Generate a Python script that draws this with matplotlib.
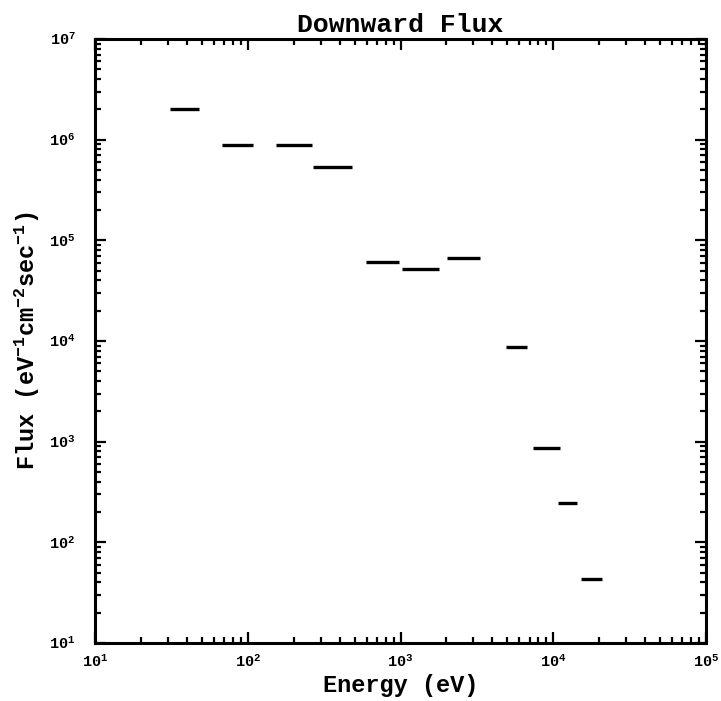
import math
import matplotlib
matplotlib.use("Agg")
import matplotlib.pyplot as plt
from matplotlib.ticker import LogLocator, FuncFormatter, NullFormatter

# energy bins (eV) and downward flux in each bin
e_lo = [31, 68, 152, 266, 590, 1025, 2030, 4880, 7400, 10700, 15100]
e_hi = [48, 108, 265, 479, 975, 1790, 3300, 6700, 11000, 14400, 21000]
flux = [2.0e6, 8.9e5, 8.9e5, 5.3e5, 6.1e4, 5.2e4, 6.7e4, 8.7e3, 870, 245, 43]

plt.rcParams['mathtext.fontset'] = 'custom'
plt.rcParams['mathtext.rm'] = 'Liberation Mono:bold'
plt.rcParams['mathtext.bf'] = 'Liberation Mono:bold'
plt.rcParams['mathtext.it'] = 'Liberation Serif:bold'
plt.rcParams['mathtext.default'] = 'rm'

fig = plt.figure(figsize=(7.21, 7.01), dpi=100)
ax = fig.add_axes([0.1318, 0.0827, 0.8474, 0.8616])

ax.hlines(flux, e_lo, e_hi, colors='black', linewidth=2.4)

ax.set_xscale('log')
ax.set_yscale('log')
ax.set_xlim(1e1, 1e5)
ax.set_ylim(1e1, 1e7)

for s in ax.spines.values():
    s.set_linewidth(2.2)

ax.xaxis.set_major_locator(LogLocator(base=10, numticks=10))
ax.yaxis.set_major_locator(LogLocator(base=10, numticks=10))
ax.xaxis.set_minor_locator(LogLocator(base=10, subs=range(2, 10), numticks=20))
ax.yaxis.set_minor_locator(LogLocator(base=10, subs=range(2, 10), numticks=20))

def fmt(v, pos):
    return r'$\mathit{10^{%d}}$' % round(math.log10(v))

ax.xaxis.set_major_formatter(FuncFormatter(fmt))
ax.yaxis.set_major_formatter(FuncFormatter(fmt))
ax.xaxis.set_minor_formatter(NullFormatter())
ax.yaxis.set_minor_formatter(NullFormatter())

ax.tick_params(which='both', direction='in', top=True, right=True, width=1.6, labelsize=11)
ax.tick_params(which='major', length=8)
ax.tick_params(which='minor', length=4)
ax.tick_params(axis='x', pad=8)
ax.tick_params(axis='y', pad=14)

font = dict(family='Liberation Mono', weight='bold')
ax.set_title('Downward Flux', fontsize=19, pad=5, **font)
ax.set_xlabel('Energy (eV)', fontsize=17, labelpad=3, **font)
ax.set_ylabel(r'Flux (eV$^{-1}$cm$^{-2}$sec$^{-1}$)', fontsize=17, labelpad=5, **font)

fig.savefig('out.png', dpi=100)
